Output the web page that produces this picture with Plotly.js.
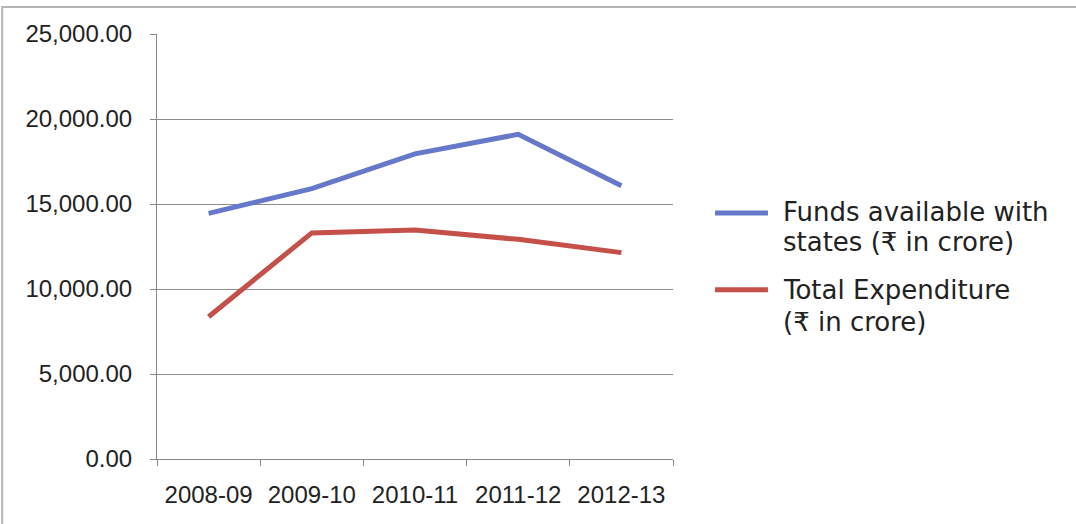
<!DOCTYPE html>
<html>
<head>
<meta charset="utf-8">
<script src="https://cdn.plot.ly/plotly-3.0.1.min.js"></script>
<style>
  html, body { margin: 0; padding: 0; background: #ffffff; }
  #chart { width: 1076px; height: 524px; }
</style>
</head>
<body>
<div id="chart"></div>
<script>
// Fiscal years on the category axis
const years = ['2008-09', '2009-10', '2010-11', '2011-12', '2012-13'];

// Funds available with states (₹ in crore)
const fundsAvailable = [14450, 15900, 17950, 19100, 16070];

// Total expenditure (₹ in crore)
const totalExpenditure = [8370, 13300, 13470, 12920, 12140];

// Series names as shown in the key (one entry per text line)
const seriesNames = [
  ['Funds available with', 'states (₹ in crore)'],
  ['Total Expenditure', '(₹ in crore)']
];
const seriesColors = ['#6578c9', '#c5504a'];

// Y axis ticks
const yTicks = [0, 5000, 10000, 15000, 20000, 25000];
const yTickLabels = ['0.00', '5,000.00', '10,000.00', '15,000.00', '20,000.00', '25,000.00'];

const traces = [
  { x: years, y: fundsAvailable, name: seriesNames[0].join(' ') },
  { x: years, y: totalExpenditure, name: seriesNames[1].join(' ') }
].map((t, i) => Object.assign(t, {
  type: 'scatter',
  mode: 'lines',
  line: { color: seriesColors[i], width: 5 },
  showlegend: false,
  hoverinfo: 'skip'
}));

// Custom key on the right: a line sample and a two-line label per series
const keyRows = [
  { sample: 0.579, lines: [0.581, 0.511] },
  { sample: 0.398, lines: [0.398, 0.322] }
];
const shapes = [
  // outer frame around the chart area
  { type: 'rect', xref: 'paper', yref: 'paper', x0: -0.3, x1: 1.7955, y0: -0.35, y1: 1.0635,
    line: { color: '#b4b4b4', width: 2 }, fillcolor: 'rgba(0,0,0,0)', layer: 'below' }
];
const annotations = [];
seriesNames.forEach((lines, i) => {
  const row = keyRows[i];
  shapes.push({ type: 'line', xref: 'paper', yref: 'paper',
    x0: 1.0814, x1: 1.184, y0: row.sample, y1: row.sample,
    line: { color: seriesColors[i], width: 5 } });
  lines.forEach((txt, j) => {
    annotations.push({ xref: 'paper', yref: 'paper', x: 1.2093, y: row.lines[j],
      xanchor: 'left', yanchor: 'middle', align: 'left', showarrow: false,
      text: txt,
      font: { family: 'DejaVu Sans', size: 26, color: '#222222' } });
  });
});

const tickFont = { family: 'Liberation Sans, Arial, sans-serif', size: 24, color: '#222222' };

const layout = {
  width: 1076,
  height: 524,
  margin: { l: 157, r: 403, t: 34, b: 65 },
  paper_bgcolor: '#ffffff',
  plot_bgcolor: '#ffffff',
  showlegend: false,
  font: tickFont,
  xaxis: {
    type: 'category',
    range: [-0.5, 4.5],
    tickson: 'boundaries',
    ticks: 'outside',
    ticklen: 6,
    tickcolor: '#888888',
    showline: true,
    linecolor: '#888888',
    linewidth: 1,
    showgrid: false,
    zeroline: false,
    tickfont: tickFont,
    ticklabelstandoff: 14,
    fixedrange: true
  },
  yaxis: {
    range: [0, 25000],
    tickvals: yTicks,
    ticktext: yTickLabels,
    ticks: 'outside',
    ticklen: 6,
    tickcolor: '#888888',
    showline: true,
    linecolor: '#888888',
    linewidth: 1,
    showgrid: true,
    gridcolor: '#8c8c8c',
    gridwidth: 1,
    zeroline: false,
    tickfont: tickFont,
    ticklabelstandoff: 13,
    fixedrange: true
  },
  shapes: shapes,
  annotations: annotations
};

Plotly.newPlot('chart', traces, layout, { displayModeBar: false, staticPlot: true });
</script>
</body>
</html>
